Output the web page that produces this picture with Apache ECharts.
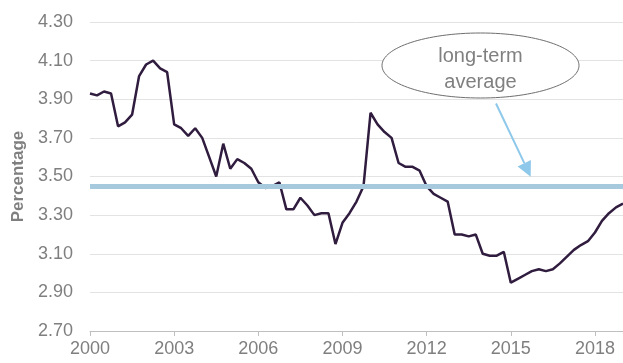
<!DOCTYPE html>
<html>
<head>
<meta charset="utf-8">
<script src="https://cdn.jsdelivr.net/npm/echarts@6/dist/echarts.min.js"></script>
<style>
html,body{margin:0;padding:0;background:#fff;}
#chart{width:623px;height:363px;}
</style>
</head>
<body>
<div id="chart"></div>
<script>
// Quarterly categories 2000Q1 .. 2019Q1
const startYear = 2000;
const endYear = 2019;
const categories = [];
for (let y = startYear; y <= endYear; y++) {
  for (let q = 1; q <= 4; q++) {
    if (y === endYear && q > 1) break;
    categories.push(y + 'Q' + q);
  }
}

const percentage = [
  3.93, 3.92, 3.94, 3.93, 3.76, 3.78, 3.82, 4.02, 4.08, 4.10, 4.06, 4.04,
  3.77, 3.75, 3.71, 3.75, 3.70, 3.60, 3.50, 3.67, 3.54, 3.59, 3.57, 3.54,
  3.47, 3.44, 3.45, 3.47, 3.33, 3.33, 3.39, 3.35, 3.30, 3.31, 3.31, 3.15,
  3.26, 3.31, 3.37, 3.45, 3.83, 3.77, 3.73, 3.70, 3.57, 3.55, 3.55, 3.53,
  3.45, 3.41, 3.39, 3.37, 3.20, 3.20, 3.19, 3.20, 3.10, 3.09, 3.09, 3.11,
  2.95, 2.97, 2.99, 3.01, 3.02, 3.01, 3.02, 3.05, 3.085, 3.12, 3.145, 3.165,
  3.21, 3.27, 3.31, 3.34, 3.36
];

const longTermAverage = 3.45;
const xTickYears = ['2000','2003','2006','2009','2012','2015','2018'];
const yTicks = ['2.70','2.90','3.10','3.30','3.50','3.70','3.90','4.10','4.30'];
const yMin = 2.7, yMax = 4.3, yStep = 0.2;
const annotationLines = ['long-term', 'average'];

const chart = echarts.init(document.getElementById('chart'), null, {renderer: 'canvas'});
const labelColor = '#7f7f7f';
const fontFamily = '"Liberation Sans", Arial, sans-serif';
const isYearTick = (idx, val) => /Q1$/.test(val) && xTickYears.indexOf(val.slice(0, 4)) >= 0;

chart.setOption({
  animation: false,
  backgroundColor: '#ffffff',
  grid: {left: 90, right: 0, top: 22, bottom: 32, containLabel: false},
  xAxis: {
    type: 'category',
    data: categories,
    boundaryGap: false,
    axisLine: {show: true, lineStyle: {color: '#bfbfbf', width: 1}},
    axisTick: {show: true, interval: isYearTick, length: 5, lineStyle: {color: '#bfbfbf'}},
    axisLabel: {
      interval: isYearTick, margin: 9,
      color: labelColor, fontSize: 18, fontFamily: fontFamily,
      formatter: v => v.slice(0, 4)
    },
    splitLine: {show: false}
  },
  yAxis: {
    type: 'value',
    min: yMin, max: yMax, interval: yStep,
    name: 'Percentage',
    nameLocation: 'middle',
    nameGap: 62,
    nameRotate: 90,
    nameTextStyle: {color: labelColor, fontSize: 17, fontWeight: 'bold', fontFamily: fontFamily},
    axisLine: {show: false},
    axisTick: {show: false},
    axisLabel: {
      color: labelColor, fontSize: 18, fontFamily: fontFamily, margin: 17,
      formatter: v => {
        const s = v.toFixed(2);
        return yTicks.indexOf(s) >= 0 ? s : '';
      }
    },
    splitLine: {show: true, lineStyle: {color: '#e3e3e3', width: 1}}
  },
  series: [
    {
      type: 'line',
      data: percentage,
      symbol: 'none',
      z: 2,
      lineStyle: {color: '#301c3e', width: 2.5},
      silent: true
    },
    {
      type: 'line',
      data: [],
      z: 4,
      silent: true,
      markLine: {
        silent: true,
        symbol: ['none', 'none'],
        label: {show: false},
        z: 4,
        lineStyle: {color: '#a7c9de', width: 5, type: 'solid'},
        data: [{yAxis: longTermAverage}]
      }
    }
  ],
  graphic: [
    {
      type: 'ellipse',
      shape: {cx: 480.5, cy: 65.5, rx: 98.5, ry: 32.5},
      style: {fill: '#ffffff', stroke: '#6e6e6e', lineWidth: 1},
      z: 10
    },
    {
      type: 'text',
      x: 480.5, y: 56.5,
      style: {text: annotationLines[0], fill: '#808080', fontSize: 20, fontFamily: fontFamily, align: 'center', verticalAlign: 'middle'},
      z: 11
    },
    {
      type: 'text',
      x: 480.5, y: 82.5,
      style: {text: annotationLines[1], fill: '#808080', fontSize: 20, fontFamily: fontFamily, align: 'center', verticalAlign: 'middle'},
      z: 11
    },
    {
      type: 'line',
      shape: {x1: 496, y1: 103.5, x2: 524.3, y2: 163.1},
      style: {stroke: '#8ec8ea', lineWidth: 2},
      z: 10
    },
    {
      type: 'polygon',
      shape: {points: [[530.7, 176.7], [517.6, 166.4], [530.9, 160.1]]},
      style: {fill: '#8ec8ea'},
      z: 10
    }
  ]
});
</script>
</body>
</html>
